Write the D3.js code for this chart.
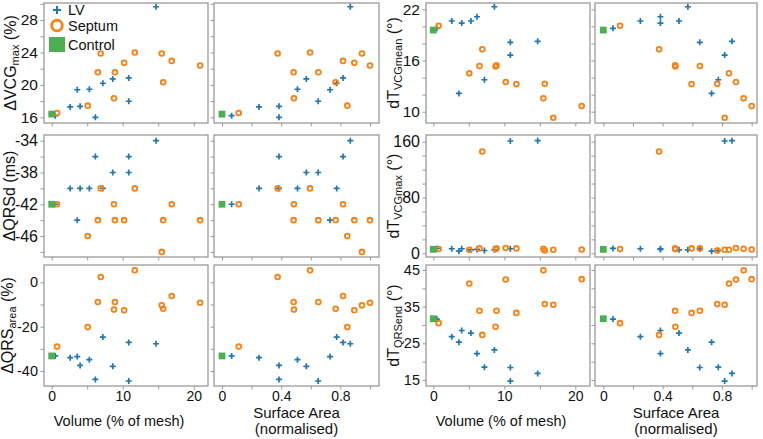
<!DOCTYPE html>
<html><head><meta charset="utf-8">
<script src="https://cdn.jsdelivr.net/npm/d3@7"></script>
<style>
body{margin:0;background:#fff}
svg{display:block}
text{font-family:"Liberation Sans",Arial,Helvetica,sans-serif}
</style>
</head><body>
<svg id="chart" width="763" height="439"></svg>
<script>
// ---------- data ----------
const lvVolume      = [0.5, 2.6, 3.6, 4.0, 5.3, 6.15, 7.2, 8.6, 10.85, 10.85, 14.7];
const lvSurface     = [0.065, 0.25, 0.73, 0.385, 0.51, 0.385, 0.775, 0.57, 0.818, 0.65, 0.867];
const septumVolume  = [0.75, 6.9, 6.5, 5.07, 8.9, 8.77, 10.2, 11.7, 15.5, 15.7, 16.9, 20.9];
const septumSurface = [0.113, 0.376, 0.651, 0.847, 0.484, 0.486, 0.894, 0.595, 0.946, 0.768, 0.818, 1.0];
const controlVolume = [0];
const controlSurface = [0];

const lvVCGmax      = [16.2, 17.28, 19.4, 17.36, 19.46, 16.0, 20.2, 20.74, 20.86, 17.98, 29.64];
const septumVCGmax  = [16.54, 23.88, 21.56, 17.44, 21.56, 18.35, 22.72, 24.0, 23.88, 20.32, 22.96, 22.4];
const controlVCGmax = [16.4];

const lvQRSd        = [-42, -40, -44, -40, -40, -36, -40, -38, -36, -38, -34];
const septumQRSd    = [-42, -40, -44, -46, -44, -42, -44, -40, -48, -44, -42, -44];
const controlQRSd   = [-42];

const lvQRSarea     = [-33.2, -34.0, -33.5, -37.5, -34.9, -43.8, -24.7, -37.9, -27.1, -44.5, -27.7];
const septumQRSarea = [-29.0, 2.4, -8.9, -20.2, -8.9, -12.3, -12.6, 5.4, -10.4, -11.9, -6.2, -9.2];
const controlQRSarea = [-33.2];

const lvTmean       = [19.77, 20.63, 12.15, 20.39, 20.63, 21.13, 13.75, 22.3, 16.64, 18.13, 18.25];
const septumTmean   = [20.08, 17.31, 15.35, 14.5, 15.45, 15.3, 13.48, 13.24, 11.57, 13.28, 9.29, 10.66];
const controlTmean  = [19.57];

const lvTmax        = [7, 6.5, 3, 6.5, 5, 5.5, 4, 5, 161, 6.5, 161.5];
const septumTmax    = [6, 146, 7, 5, 7, 6, 7.6, 7, 6.5, 4, 5, 5.5];
const controlTmax   = [5.7];

const lvTQRSend     = [31.6, 26.8, 25.3, 28.5, 27.8, 22.2, 18.5, 23.2, 14.7, 18.4, 16.8];
const septumTQRSend = [30.5, 27.3, 33.9, 41.3, 33.9, 29.5, 42.4, 33.3, 44.9, 35.7, 35.5, 42.5];
const controlTQRSend = [31.7];

// tick values / labels
const volumeTicks = [0, 5, 10, 15, 20];
const volumeLabels = [0, 10, 20];
const surfaceTicks = [0, 0.2, 0.4, 0.6, 0.8, 1.0];
const surfaceLabels = [0, 0.4, 0.8];
const legendNames = ["LV", "Septum", "Control"];

// ---------- layout ----------
const C_LV = "#1f77b4", C_SEP = "#ff7f0e", C_CTRL = "#4caf50";
const FRAME = "#9a9a9a";
const svg = d3.select("#chart");

const cols = [
  {x0: 44,  x1: 208, dom: [-1.085, 22.01], kind: "vol"},
  {x0: 214, x1: 379, dom: [-0.054, 1.061], kind: "sa"},
  {x0: 426, x1: 590, dom: [-1.03, 22.07],  kind: "vol"},
  {x0: 595, x1: 757, dom: [-0.056, 1.036], kind: "sa"}
];
const rows = [{y0: 3, y1: 123, fs: 15.5}, {y0: 135, y1: 257, fs: 16}, {y0: 265, y1: 386, fs: 14.5}];

const metrics = [
  // left group
  [
    {lv: lvVCGmax, sep: septumVCGmax, ctrl: controlVCGmax, dom: [15.3, 30.1], ticks: d3.range(16, 31, 2), labels: [16, 20, 24, 28],
     name: ["ΔVCG", "max", " (%)"], lx: 16},
    {lv: lvQRSd, sep: septumQRSd, ctrl: controlQRSd, dom: [-48.64, -33.28], ticks: d3.range(-48, -33, 2), labels: [-34, -38, -42, -46],
     name: ["ΔQRSd (ms)", "", ""], lx: 14.5},
    {lv: lvQRSarea, sep: septumQRSarea, ctrl: controlQRSarea, dom: [-46.76, 7.8], ticks: [-40, -30, -20, -10, 0], labels: [-40, -20, 0],
     name: ["ΔQRS", "area", " (%)"], lx: 13}
  ],
  // right group
  [
    {lv: lvTmean, sep: septumTmean, ctrl: controlTmean, dom: [8.68, 22.74], ticks: d3.range(10, 23, 2), labels: [10, 16, 22],
     name: ["dT", "VCGmean", " (°)"], lx: 399},
    {lv: lvTmax, sep: septumTmax, ctrl: controlTmax, dom: [-5.3, 169.6], ticks: d3.range(0, 161, 20), labels: [0, 80, 160],
     name: ["dT", "VCGmax", " (°)"], lx: 399},
    {lv: lvTQRSend, sep: septumTQRSend, ctrl: controlTQRSend, dom: [13.36, 46.36], ticks: [15, 20, 25, 30, 35, 40, 45], labels: [15, 25, 35, 45],
     name: ["dT", "QRSend", " (°)"], lx: 399}
  ]
];

const crossPath = s => `M${-s},0H${s}M0,${-s}V${s}`;
function fmt(v){ return Math.abs(v) < 1e-9 ? "0" : String(+v.toFixed(2)); }

cols.forEach((col, ci) => {
  const group = ci < 2 ? 0 : 1;
  const isFirst = ci % 2 === 0;
  const xs = d3.scaleLinear().domain(col.dom).range([col.x0, col.x1]);
  const xTicks = col.kind === "vol" ? volumeTicks : surfaceTicks;
  const xLabels = col.kind === "vol" ? volumeLabels : surfaceLabels;
  const lvX = col.kind === "vol" ? lvVolume : lvSurface;
  const sepX = col.kind === "vol" ? septumVolume : septumSurface;
  const ctrlX = col.kind === "vol" ? controlVolume : controlSurface;

  rows.forEach((row, ri) => {
    const m = metrics[group][ri];
    const ys = d3.scaleLinear().domain(m.dom).range([row.y1, row.y0]);
    const g = svg.append("g");

    // frame
    g.append("rect").attr("x", col.x0).attr("y", row.y0)
      .attr("width", col.x1 - col.x0).attr("height", row.y1 - row.y0)
      .attr("fill", "#fff").attr("stroke", FRAME).attr("stroke-width", 1.3);

    // y axis
    const ya = g.append("g").attr("transform", `translate(${col.x0},0)`)
      .call(d3.axisLeft(ys).tickValues(m.ticks).tickSize(3.5).tickPadding(2.5)
        .tickFormat(d => (isFirst && m.labels.some(l => Math.abs(l - d) < 1e-9)) ? fmt(d) : ""));
    ya.select(".domain").remove();
    ya.selectAll(".tick line").attr("stroke", FRAME).attr("stroke-width", 1);
    ya.selectAll(".tick text").attr("fill", "#111").style("font-size", row.fs + "px")
      .style("font-family", '"Liberation Sans",Arial,sans-serif');

    // x axis
    const xa = g.append("g").attr("transform", `translate(0,${row.y1})`)
      .call(d3.axisBottom(xs).tickValues(xTicks).tickSize(3.5).tickPadding(2)
        .tickFormat(d => (ri === 2 && xLabels.some(l => Math.abs(l - d) < 1e-9)) ? fmt(d) : ""));
    xa.select(".domain").remove();
    xa.selectAll(".tick line").attr("stroke", FRAME).attr("stroke-width", 1);
    xa.selectAll(".tick text").attr("fill", "#111").style("font-size", "14px")
      .style("font-family", '"Liberation Sans",Arial,sans-serif');

    // points: LV
    g.selectAll(".lv").data(m.lv).enter().append("path")
      .attr("transform", (d, i) => `translate(${xs(lvX[i])},${ys(d)})`)
      .attr("d", crossPath(3)).attr("stroke", C_LV).attr("stroke-width", 1.7).attr("fill", "none");
    // Septum
    g.selectAll(".sep").data(m.sep).enter().append("circle")
      .attr("cx", (d, i) => xs(sepX[i])).attr("cy", d => ys(d)).attr("r", 2.4)
      .attr("fill", "none").attr("stroke", C_SEP).attr("stroke-width", 1.8);
    // Control
    g.selectAll(".ctrl").data(m.ctrl).enter().append("rect")
      .attr("x", (d, i) => xs(ctrlX[i]) - 3.4).attr("y", d => ys(d) - 3.4)
      .attr("width", 6.8).attr("height", 6.8).attr("fill", C_CTRL);

    // y label
    if (isFirst) {
      const cy = (row.y0 + row.y1) / 2;
      const t = svg.append("text").attr("transform", `translate(${m.lx},${cy}) rotate(-90)`)
        .attr("text-anchor", "middle").style("font-size", "16px").attr("fill", "#111");
      t.append("tspan").text(m.name[0]);
      if (m.name[1]) {
        t.append("tspan").attr("dy", 3).style("font-size", "11px").text(m.name[1]);
        t.append("tspan").attr("dy", -3).text(m.name[2]);
      }
    }
  });

  // x labels
  if (col.kind === "vol") {
    svg.append("text").attr("x", (col.x0 + col.x1) / 2 - 7).attr("y", 426)
      .attr("text-anchor", "middle").style("font-size", "14.5px").attr("fill", "#111")
      .text("Volume (% of mesh)");
  } else {
    const cx = (col.x0 + col.x1) / 2;
    svg.append("text").attr("x", cx).attr("y", 418).attr("text-anchor", "middle")
      .style("font-size", "15px").attr("fill", "#111").text("Surface Area");
    svg.append("text").attr("x", cx).attr("y", 434).attr("text-anchor", "middle")
      .style("font-size", "15px").attr("fill", "#111").text("(normalised)");
  }
});

// legend (in first panel)
const lg = svg.append("g");
const lgY = [10, 25.5, 44.5];
lg.append("path").attr("transform", `translate(57,${lgY[0]})`).attr("d", crossPath(4))
  .attr("stroke", C_LV).attr("stroke-width", 2).attr("fill", "none");
lg.append("circle").attr("cx", 57).attr("cy", lgY[1]).attr("r", 5.3)
  .attr("fill", "none").attr("stroke", C_SEP).attr("stroke-width", 2.8);
lg.append("rect").attr("x", 49).attr("y", lgY[2] - 7.5).attr("width", 16).attr("height", 15).attr("fill", C_CTRL);
legendNames.forEach((n, i) => {
  lg.append("text").attr("x", 68).attr("y", lgY[i] + 5).style("font-size", "14.5px")
    .attr("fill", "#111").text(n);
});
</script>
</body></html>
